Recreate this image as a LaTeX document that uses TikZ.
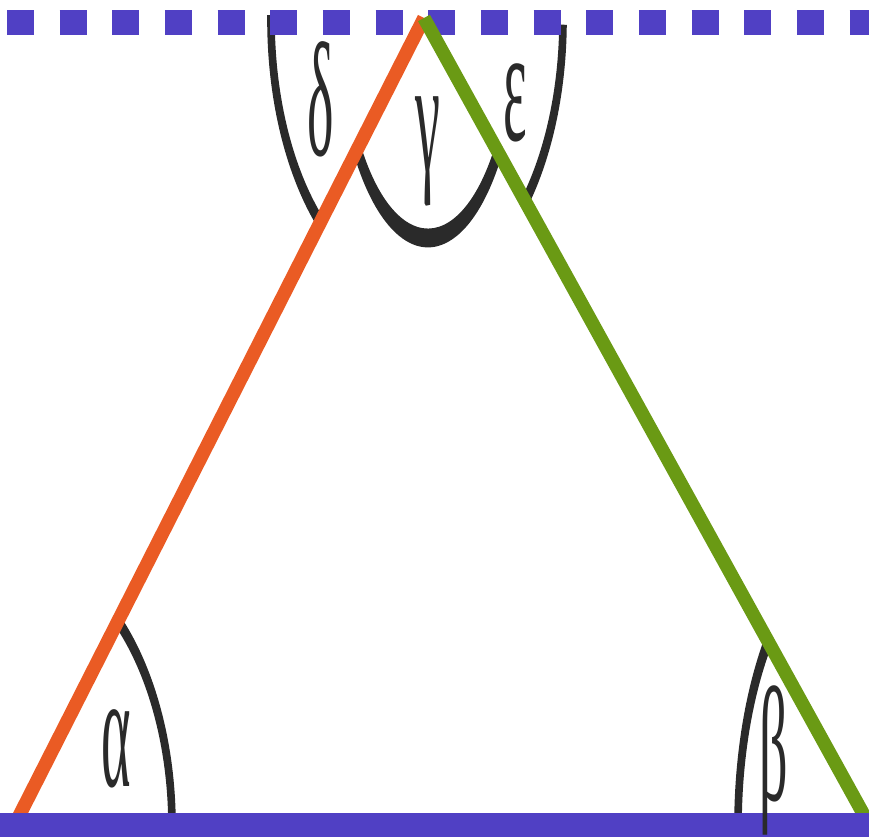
\documentclass[tikz,border=0pt]{standalone}
\usepackage{fontspec}
\newfontfamily\greekfont{Liberation Serif}
\usepackage{tikz}
\usetikzlibrary{calc}
\definecolor{SideRed}{HTML}{EA5B24}
\definecolor{SideGreen}{HTML}{6A9A14}
\definecolor{Parallel}{HTML}{5040C4}
\definecolor{ArcInk}{HTML}{2A2A2A}

% filled angle arc: centre, x radius, y radius, start, end
\newcommand\anglearc[5]{%
  \pgfmathsetmacro\rxo{#2+3.8}\pgfmathsetmacro\ryo{#3+3.8*#3/#2}%
  \pgfmathsetmacro\rxi{#2-3.8}\pgfmathsetmacro\ryi{#3-3.8*#3/#2}%
  \pgfmathsetmacro\xa{\rxo*cos(#4)}\pgfmathsetmacro\ya{\ryo*sin(#4)}%
  \pgfmathsetmacro\xb{\rxi*cos(#5)}\pgfmathsetmacro\yb{\ryi*sin(#5)}%
  \fill[ArcInk] ($(#1)+(\xa,\ya)$)
    arc[start angle=#4, end angle=#5, x radius=\rxo, y radius=\ryo]
    -- ($(#1)+(\xb,\yb)$)
    arc[start angle=#5, end angle=#4, x radius=\rxi, y radius=\ryi] -- cycle;}

\begin{document}
\begin{tikzpicture}[
    x=0.02cm, y=0.02cm,
    side/.style={line width=0.27cm, line cap=butt},
    parline/.style={draw=Parallel, line width=0.52cm},
    dashline/.style={draw=Parallel, line width=0.5cm, dash pattern=on 0.54cm off 0.5134cm},
    greek/.style={inner sep=0pt, text=ArcInk, font=\greekfont\fontsize{32}{38}\selectfont, yscale=2.9, transform shape}
  ]
    \useasboundingbox (0,0) rectangle (869,836);
    \clip (0,0) rectangle (869,836);

    \coordinate (A) at (14,10);
    \coordinate (B) at (870,10);
    \coordinate (C) at (424,818);
    \coordinate (top) at (417,816);
    \coordinate (mid) at (428,816);

    % angle arcs
    \anglearc{A}{158}{272}{0}{48.9}
    \anglearc{B}{132}{290}{140.5}{180}
    \anglearc{top}{146}{270}{179}{228.6}
    \anglearc{top}{146}{270}{317.8}{359}
    \anglearc{mid}{88}{218}{216.5}{322.7}

    % parallel through the apex
    \coordinate (d0) at (7,813.5);
    \coordinate (d1) at (880,813.5);
    \draw[dashline] (d0) -- (d1);

    % triangle sides
    \draw[side, SideRed] (A) -- (C);
    \draw[side, SideGreen] (C) -- (B);

    % base line
    \coordinate (b0) at (-10,10.5);
    \coordinate (b1) at (880,10.5);
    \draw[parline] (b0) -- (b1);

    \node[greek] (alpha) at (116.5,87.5) {α};
    \node[greek] (beta) at (774,76) {β};
    \node[greek] (gamma) at (428,684.5) {γ};
    \node[greek] (delta) at (320.5,737) {δ};
    \node[greek] (eps) at (515.5,733.5) {ε};
\end{tikzpicture}
\end{document}
